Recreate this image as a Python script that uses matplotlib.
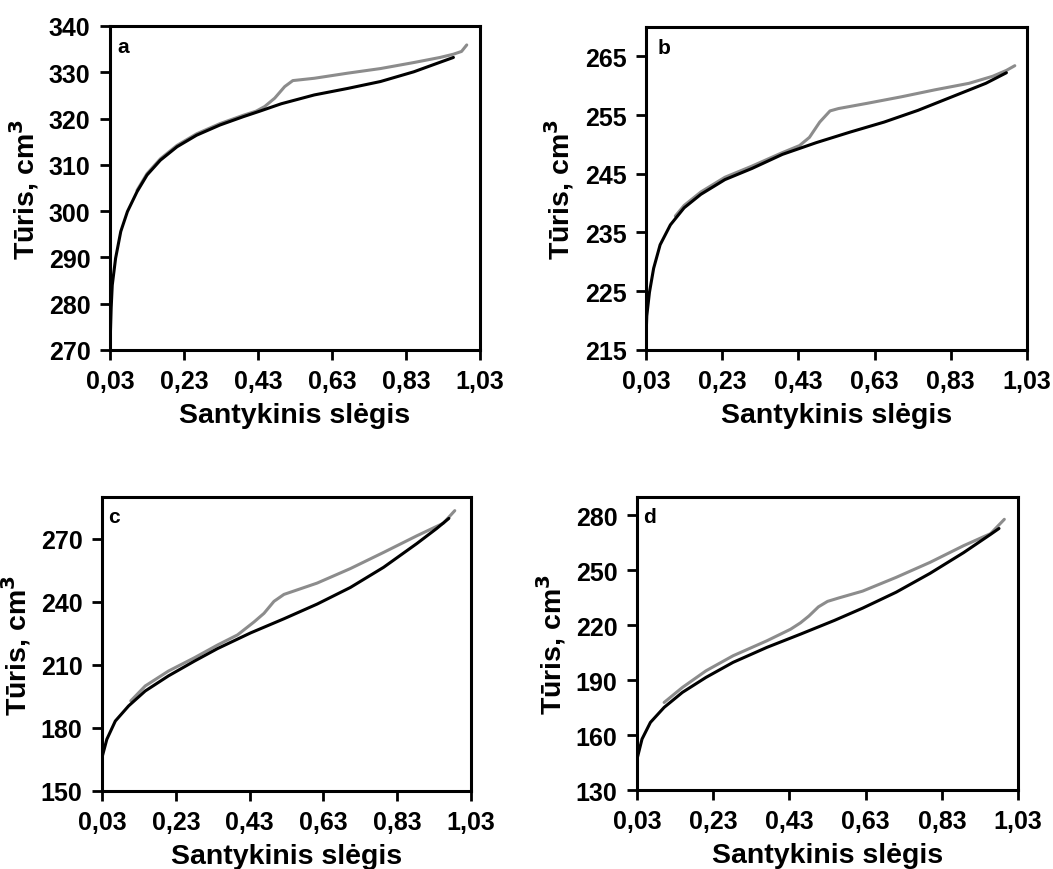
import numpy as np
import matplotlib.pyplot as plt

plt.rcParams['font.family'] = ['Liberation Sans', 'DejaVu Sans']
plt.rcParams['font.weight'] = 'bold'

# santykinis slėgis (p/p0) ir tūris, cm3 - adsorbcija (juoda) ir desorbcija (pilka)
a_ads_x = [0.03, 0.033, 0.036, 0.045, 0.059, 0.077, 0.103, 0.13, 0.166, 0.211, 0.264, 0.327, 0.39, 0.435,
           0.493, 0.582, 0.672, 0.761, 0.851, 0.913, 0.958]
a_ads_y = [270.9, 279.0, 284.0, 289.8, 295.6, 299.9, 304.2, 307.8, 311.0, 313.9, 316.4, 318.6, 320.4, 321.6,
           323.2, 325.1, 326.5, 328.0, 330.1, 331.9, 333.2]
a_des_x = [0.103, 0.13, 0.166, 0.211, 0.264, 0.327, 0.39, 0.425, 0.448, 0.475, 0.502, 0.524, 0.582, 0.672,
           0.761, 0.851, 0.922, 0.958, 0.98, 0.994]
a_des_y = [304.5, 308.1, 311.3, 314.2, 316.7, 318.9, 320.7, 321.6, 322.6, 324.4, 326.9, 328.2, 328.7, 329.8,
           330.8, 332.1, 333.2, 333.9, 334.5, 335.9]

b_ads_x = [0.03, 0.032, 0.039, 0.05, 0.067, 0.094, 0.13, 0.174, 0.237, 0.308, 0.388, 0.477, 0.566, 0.655,
           0.744, 0.833, 0.922, 0.976]
b_ads_y = [217.0, 220.8, 224.8, 228.9, 232.9, 236.3, 239.2, 241.5, 244.0, 245.9, 248.3, 250.3, 252.1, 253.8,
           255.8, 258.1, 260.4, 262.2]
b_des_x = [0.107, 0.13, 0.174, 0.237, 0.308, 0.388, 0.433, 0.459, 0.486, 0.513, 0.535, 0.611, 0.7, 0.789,
           0.878, 0.94, 0.976, 0.998]
b_des_y = [237.8, 239.6, 241.9, 244.4, 246.3, 248.6, 249.8, 251.2, 253.8, 255.7, 256.1, 257.0, 258.1, 259.3,
           260.4, 261.6, 262.6, 263.4]

c_ads_x = [0.03, 0.043, 0.066, 0.102, 0.147, 0.21, 0.281, 0.343, 0.433, 0.523, 0.613, 0.703, 0.793, 0.883,
           0.937, 0.97]
c_ads_y = [166.0, 174.6, 183.3, 190.5, 197.6, 204.8, 211.9, 217.8, 225.3, 232.0, 239.0, 246.9, 256.5, 267.8,
           275.0, 279.8]
c_des_x = [0.108, 0.147, 0.21, 0.281, 0.343, 0.397, 0.442, 0.469, 0.496, 0.523, 0.613, 0.703, 0.793, 0.883,
           0.955, 0.986]
c_des_y = [192.9, 200.0, 207.1, 213.5, 219.5, 224.3, 230.5, 234.6, 240.3, 243.6, 249.0, 255.9, 263.6, 271.5,
           277.5, 283.5]

d_ads_x = [0.03, 0.043, 0.065, 0.101, 0.149, 0.211, 0.282, 0.371, 0.459, 0.548, 0.622, 0.71, 0.799, 0.887,
           0.958, 0.98]
d_ads_y = [147.0, 157.8, 166.9, 175.1, 183.3, 191.5, 199.7, 207.9, 215.1, 222.6, 229.3, 238.0, 248.3, 259.6,
           269.6, 272.8]
d_des_x = [0.101, 0.149, 0.211, 0.282, 0.371, 0.433, 0.459, 0.481, 0.506, 0.53, 0.56, 0.622, 0.71, 0.799,
           0.887, 0.958, 0.994]
d_des_y = [177.8, 186.0, 195.1, 203.3, 211.5, 217.8, 221.3, 225.0, 230.0, 233.0, 234.9, 238.6, 246.1, 254.3,
           263.4, 270.0, 277.8]

x_ticks = [0.03, 0.23, 0.43, 0.63, 0.83, 1.03]

panels = [
    ('a', [0.1045, 0.5966, 0.3514, 0.3724], 0.019, a_ads_x, a_ads_y, a_des_x, a_des_y, (270, 340), np.arange(270, 341, 10)),
    ('b', [0.6135, 0.5966, 0.3618, 0.3713], 0.031, b_ads_x, b_ads_y, b_des_x, b_des_y, (215, 270), np.arange(215, 266, 10)),
    ('c', [0.0969, 0.0897, 0.3504, 0.3379], 0.016, c_ads_x, c_ads_y, c_des_x, c_des_y, (150, 290), np.arange(150, 271, 30)),
    ('d', [0.6050, 0.0908, 0.3618, 0.3368], 0.016, d_ads_x, d_ads_y, d_des_x, d_des_y, (130, 290), np.arange(130, 281, 30)),
]

fig = plt.figure(figsize=(10.53, 8.7), dpi=100)

for name, rect, lx, ax_x, ax_y, dx, dy, ylim, yticks in panels:
    ax = fig.add_axes(rect)
    ax.plot(dx, dy, color='#8c8c8c', lw=2.2, solid_capstyle='round', solid_joinstyle='round')
    ax.plot(ax_x, ax_y, color='black', lw=2.2, solid_capstyle='round', solid_joinstyle='round')
    ax.set_xlim(0.03, 1.03)
    ax.set_ylim(*ylim)
    ax.set_xticks(x_ticks)
    ax.set_xticklabels([('%.2f' % t).replace('.', ',') for t in x_ticks])
    ax.set_yticks(yticks)
    for s in ax.spines.values():
        s.set_linewidth(2.2)
    ax.tick_params(direction='out', length=7, width=2, labelsize=18)
    ax.tick_params(axis='y', pad=7)
    ax.tick_params(axis='x', pad=7)
    for lab in ax.get_xticklabels() + ax.get_yticklabels():
        lab.set_fontweight('bold')
    ax.set_xlabel('Santykinis slėgis', fontsize=20.5, fontweight='bold', labelpad=6)
    ax.set_ylabel('Tūris, cm$^\\mathbf{3}$', fontsize=20.5, fontweight='bold', labelpad=6)
    ax.text(lx, 0.965, name, transform=ax.transAxes, fontsize=15, fontweight='bold', va='top', ha='left')

fig.savefig('out.png', dpi=100)
